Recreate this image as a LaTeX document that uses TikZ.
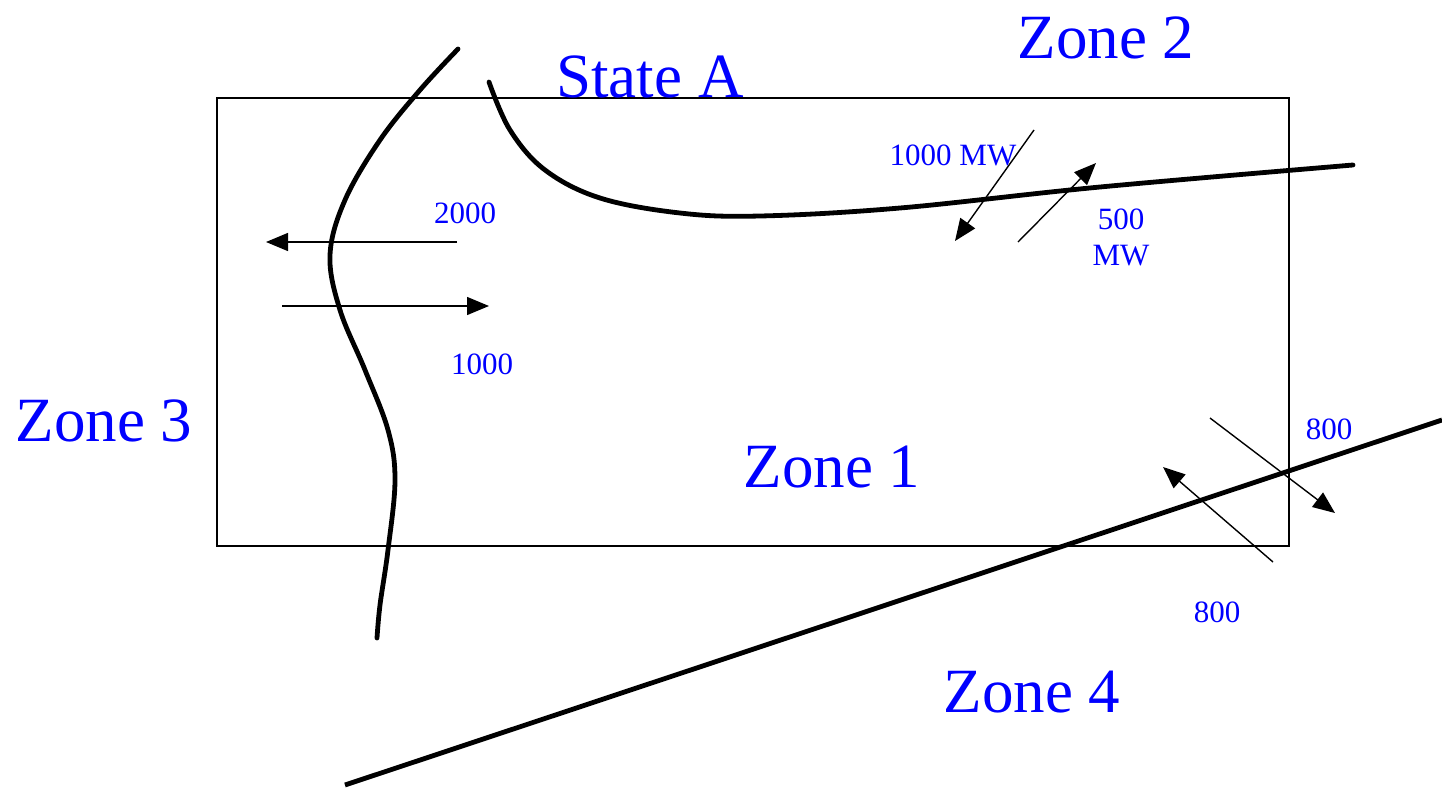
\documentclass[tikz,border=0pt]{standalone}
\usepackage{fontspec}
\setmainfont{Liberation Serif}
\usetikzlibrary{arrows.meta}
\pgfdeclarelayer{edgelayer}
\pgfdeclarelayer{nodelayer}
\pgfsetlayers{edgelayer,nodelayer,main}
\tikzstyle{none}=[inner sep=0pt]
\tikzstyle{zone}=[inner sep=0pt, text=blue, font=\fontsize{31.5}{34}\selectfont]
\tikzstyle{flow}=[inner sep=0pt, text=blue, align=center, font=\fontsize{15.5}{18}\selectfont]
\tikzstyle{border}=[draw=black, line width=2.4pt, line cap=round]
\tikzstyle{tie}=[draw=black, line width=0.7pt, -{Triangle[length=11pt, width=9pt]}]

\begin{document}
\begin{tikzpicture}[x=0.5pt, y=-0.5pt]
	\useasboundingbox (0, 0) rectangle (1442, 788);
	\begin{pgfonlayer}{nodelayer}
		\node [style=zone] (0) at (1106, 38) {Zone 2};
		\node [style=zone] (1) at (650, 77) {State A};
		\node [style=zone] (2) at (104, 421) {Zone 3};
		\node [style=zone] (3) at (832, 467) {Zone 1};
		\node [style=zone] (4) at (1032, 692) {Zone 4};
		\node [style=flow] (5) at (465, 213) {2000};
		\node [style=flow] (6) at (482, 364) {1000};
		\node [style=flow] (7) at (953, 155) {1000 MW};
		\node [style=flow] (8) at (1121, 237) {500\\MW};
		\node [style=flow] (9) at (1329, 429) {800};
		\node [style=flow] (10) at (1217, 612) {800};
		\node [style=none] (11) at (457, 242) {};
		\node [style=none] (12) at (266, 242) {};
		\node [style=none] (13) at (282, 306) {};
		\node [style=none] (14) at (489, 306) {};
		\node [style=none] (15) at (1034, 130) {};
		\node [style=none] (16) at (955, 241) {};
		\node [style=none] (17) at (1018, 242) {};
		\node [style=none] (18) at (1096, 163) {};
		\node [style=none] (19) at (1210, 418) {};
		\node [style=none] (20) at (1335, 513) {};
		\node [style=none] (21) at (1273, 562) {};
		\node [style=none] (22) at (1163, 467) {};
		\node [style=none] (23) at (345, 785) {};
		\node [style=none] (24) at (1442, 420) {};
	\end{pgfonlayer}
	\begin{pgfonlayer}{edgelayer}
		\draw [line width=0.8pt] (217, 98) rectangle (1289, 546);
		\draw [style=border] plot [smooth, tension=0.6] coordinates {(458, 49) (420, 90) (380, 140) (345, 200) (330, 255) (340, 310) (365, 370) (388, 430) (395, 480) (388, 550) (380, 605) (377, 638)};
		\draw [style=border] plot [smooth, tension=0.6] coordinates {(489, 82) (510, 130) (545, 170) (600, 198) (680, 213) (760, 216) (900, 208) (1100, 187) (1353, 165)};
		\draw [style=border, line cap=butt] (23.center) to (24.center);
		\draw [style=tie] (11.center) to (12.center);
		\draw [style=tie] (13.center) to (14.center);
		\draw [style=tie] (15.center) to (16.center);
		\draw [style=tie] (17.center) to (18.center);
		\draw [style=tie] (19.center) to (20.center);
		\draw [style=tie] (21.center) to (22.center);
	\end{pgfonlayer}
\end{tikzpicture}
\end{document}
